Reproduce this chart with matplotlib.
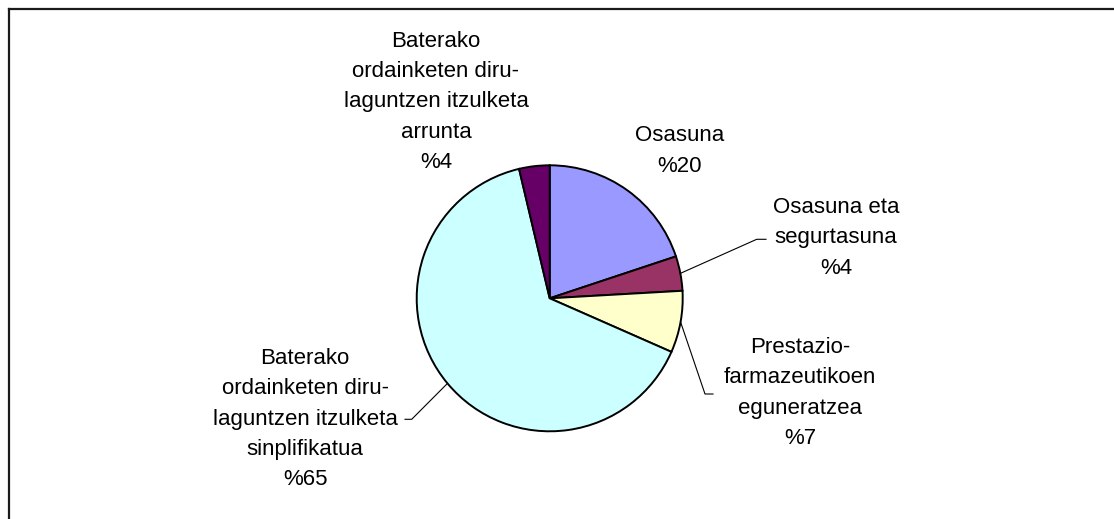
import numpy as np
import matplotlib
matplotlib.use('Agg')
import matplotlib.pyplot as plt

# ---------- data ----------
names = ['Osasuna',
         'Osasuna eta\nsegurtasuna',
         'Prestazio-\nfarmazeutikoen\neguneratzea',
         'Baterako\nordainketen diru-\nlaguntzen itzulketa\nsinplifikatua',
         'Baterako\nordainketen diru-\nlaguntzen itzulketa\narrunta']
values = [19.9, 4.2, 7.5, 64.7, 3.7]
pct_text = ['%20', '%4', '%7', '%65', '%4']
colors = ['#9999FF', '#993366', '#FFFFCC', '#CCFFFF', '#660066']

W, H = 1114, 519
plt.rcParams['font.family'] = ['Liberation Sans', 'DejaVu Sans']

fig = plt.figure(figsize=(W / 100, H / 100), dpi=100)
ax = fig.add_axes([0, 0, 1, 1])

# pie in pixel units (y up)
cx, cy, r = 549.7, H - 298.3, 133
wedges, _ = ax.pie(values, colors=colors, startangle=90, counterclock=False,
                   center=(cx, cy), radius=r,
                   wedgeprops=dict(edgecolor='black', linewidth=1.4))
ax.set_xlim(0, W)
ax.set_ylim(0, H)
ax.set_aspect('equal')
ax.axis('off')

# label positions (image pixels, block centres)
label_pos = [(680, 151), (836, 238), (800, 393), (305, 419), (436, 102)]
for name, pct, (x, y) in zip(names, pct_text, label_pos):
    ax.text(x, H - y, name + '\n' + pct, ha='center', va='center',
            fontsize=16, linespacing=1.59, color='black')

# leader lines: from wedge middle on the rim to a bend, then a short tick
leaders = {1: [(756.7, 239.3), (766, 239.3)],
           2: [(705, 394), (713, 394)],
           3: [(411.7, 419.3), (405, 419.3)]}
for i, pts in leaders.items():
    w = wedges[i]
    mid = np.deg2rad((w.theta1 + w.theta2) / 2)
    xs = [cx + r * np.cos(mid)] + [p[0] for p in pts]
    ys = [cy + r * np.sin(mid)] + [H - p[1] for p in pts]
    ax.plot(xs, ys, color='black', linewidth=0.8)

# outer frame (only top and left edges are inside the picture)
ax.plot([8.5, W], [H - 8.5, H - 8.5], color='#1a1a1a', linewidth=1.6,
        clip_on=False)
ax.plot([8.5, 8.5], [H - 8.5, 0], color='#1a1a1a', linewidth=1.6,
        clip_on=False)

fig.savefig('out.png', dpi=100)
plt.close()
